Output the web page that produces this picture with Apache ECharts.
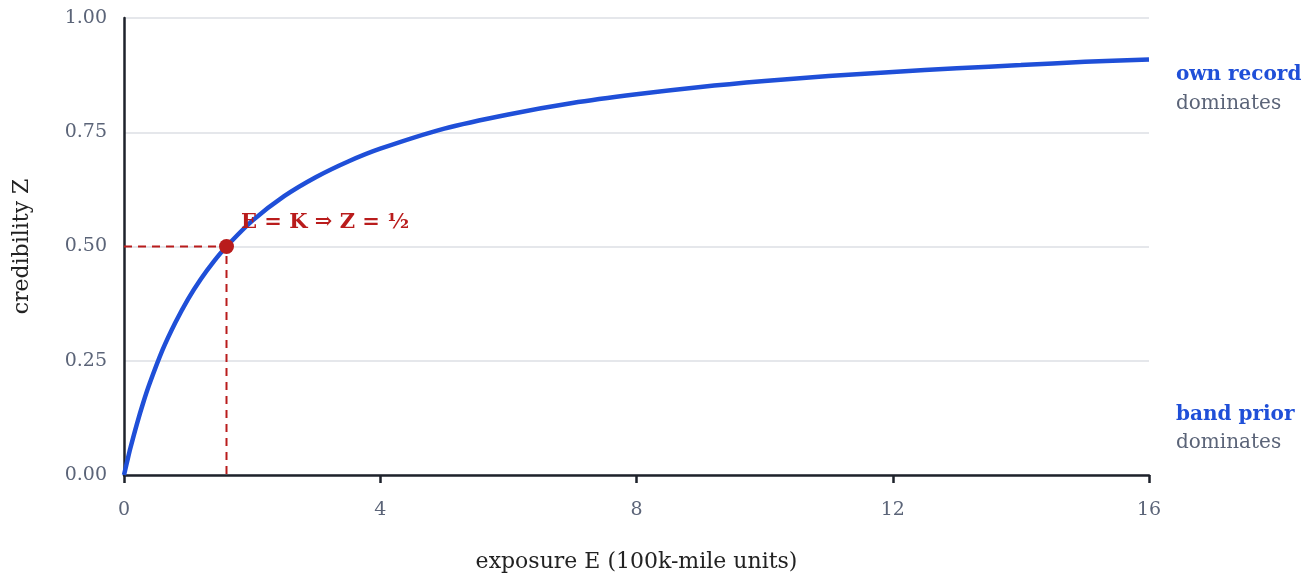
<!DOCTYPE html>
<html>
<head>
<meta charset="utf-8">
<script src="https://cdn.jsdelivr.net/npm/echarts@6/dist/echarts.min.js"></script>
<style>
  html, body { margin: 0; padding: 0; background: #fff; }
  #chart { width: 1308px; height: 574px; }
</style>
</head>
<body>
<div id="chart"></div>
<script>
// exposure E (100k-mile units) and credibility Z
const exposure = [0, 0.05, 0.1, 0.2, 0.3, 0.4, 0.6, 0.8, 1.0, 1.2, 1.4, 1.6, 2.0, 2.5, 3.0, 3.5, 4.0, 5.0, 6.0, 7.0, 8.0, 9.0, 10.0, 11.0, 12.0, 13.0, 14.0, 15.0, 16.0];
const credibility = [0, 0.03, 0.059, 0.111, 0.158, 0.2, 0.273, 0.333, 0.385, 0.429, 0.467, 0.5, 0.556, 0.61, 0.652, 0.686, 0.714, 0.758, 0.789, 0.814, 0.833, 0.849, 0.862, 0.873, 0.882, 0.89, 0.897, 0.904, 0.909];
// the E = K point
const halfPoint = [1.6, 0.5];
const xTicks = [0, 4, 8, 12, 16];
const yTicks = [0, 0.25, 0.5, 0.75, 1];

const font = '"DejaVu Serif", serif';
const blue = "#1f4fd8";
const red = "#b91c1c";
const slate = "#5b6478";

const chart = echarts.init(document.getElementById("chart"), null, { renderer: "canvas" });

chart.setOption({
  backgroundColor: "#fff",
  animation: false,
  textStyle: { fontFamily: font },
  grid: { left: 124, right: 159, top: 18, bottom: 99, outerBoundsMode: "none", containLabel: false },
  xAxis: {
    type: "value",
    min: xTicks[0],
    max: xTicks[xTicks.length - 1],
    interval: 4,
    name: "exposure E (100k-mile units)",
    nameLocation: "middle",
    nameGap: 76,
    nameTextStyle: { fontSize: 22, color: "#222", fontFamily: font },
    axisLine: { show: true, lineStyle: { color: "#1e222b", width: 2.5 } },
    axisTick: { show: true, length: 8, lineStyle: { color: "#1e222b", width: 2.5 } },
    axisLabel: { color: slate, fontSize: 19, margin: 26, fontFamily: font },
    splitLine: { show: false },
  },
  yAxis: {
    type: "value",
    min: yTicks[0],
    max: yTicks[yTicks.length - 1],
    interval: 0.25,
    name: "credibility Z",
    nameLocation: "middle",
    nameGap: 91,
    nameTextStyle: { fontSize: 22, color: "#222", fontFamily: font },
    axisLine: { show: true, lineStyle: { color: "#1e222b", width: 2.5 } },
    axisTick: { show: false },
    axisLabel: {
      color: slate,
      fontSize: 19,
      margin: 17,
      fontFamily: font,
      formatter: (v) => v.toFixed(2),
    },
    splitLine: { show: true, lineStyle: { color: "#e5e7eb", width: 2 } },
  },
  series: [
    {
      name: "guides",
      type: "line",
      data: [[0, halfPoint[1]], halfPoint, [halfPoint[0], 0]],
      symbol: "none",
      lineStyle: { color: red, width: 2, type: [8, 6] },
      z: 2,
    },
    {
      name: "credibility",
      type: "line",
      data: exposure.map((e, i) => [e, credibility[i]]),
      smooth: 0.3,
      symbol: "none",
      lineStyle: { color: blue, width: 4.5 },
      z: 3,
    },
    {
      name: "half",
      type: "scatter",
      data: [halfPoint],
      symbolSize: 15,
      itemStyle: { color: red, opacity: 1 },
      label: {
        show: true,
        formatter: "E = K \u21D2 Z = \u00BD",
        position: "right",
        offset: [2, -24],
        color: red,
        fontWeight: "bold",
        fontSize: 21,
        fontFamily: font,
      },
      emphasis: { disabled: true },
      z: 4,
    },
  ],
  graphic: [
    { type: "text", left: 1176, top: 65, style: { text: "own record", fill: blue, font: "bold 20px " + font } },
    { type: "text", left: 1176, top: 94, style: { text: "dominates", fill: slate, font: "20px " + font } },
    { type: "text", left: 1176, top: 405, style: { text: "band prior", fill: blue, font: "bold 20px " + font } },
    { type: "text", left: 1176, top: 433, style: { text: "dominates", fill: slate, font: "20px " + font } },
  ],
});
</script>
</body>
</html>
